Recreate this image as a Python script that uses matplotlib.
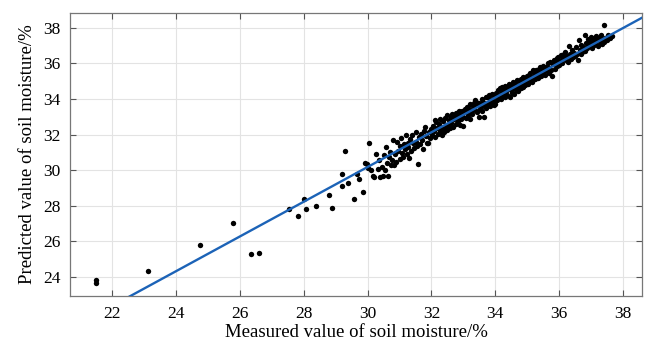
import matplotlib
matplotlib.use("Agg")
import matplotlib.pyplot as plt
import numpy as np

plt.rcParams['font.family'] = ['Liberation Serif', 'DejaVu Serif']

# measured vs predicted soil moisture (%)
outlier_x = [21.48, 21.48, 23.10, 24.76, 25.77, 26.34, 26.60, 27.54, 27.83, 28.02,
             28.06, 28.37, 28.80, 28.88, 29.19, 29.19, 29.30, 29.37, 29.56, 29.66,
             29.73, 29.84, 29.92, 29.97, 30.00, 30.05, 30.10, 30.16, 30.20, 30.25]
outlier_y = [23.83, 23.68, 24.32, 25.82, 27.05, 25.27, 25.35, 27.83, 27.45, 28.40,
             27.83, 28.00, 28.60, 27.85, 29.80, 29.13, 31.10, 29.30, 28.40, 29.80,
             29.50, 28.77, 30.40, 30.37, 30.10, 31.50, 30.00, 29.70, 29.60, 30.90]

band_x = [30.32, 30.36, 30.40, 30.45, 30.48, 30.52, 30.55, 30.58, 30.60, 30.64, 30.68, 30.70,
          30.72, 30.75, 30.80, 30.82, 30.85, 30.90, 30.93, 30.96, 31.00, 31.02,
          31.05, 31.08, 31.10, 31.13, 31.16, 31.20, 31.22, 31.25, 31.28, 31.30, 31.33, 31.36,
          31.40, 31.43, 31.46, 31.50, 31.52, 31.55, 31.58, 31.60, 31.63, 31.66, 31.70, 31.73,
          31.76, 31.80, 31.83, 31.86, 31.90, 31.92, 31.95, 31.98,
          32.02, 32.05, 32.08, 32.10, 32.12, 32.15, 32.18, 32.20, 32.23, 32.26, 32.28, 32.30,
          32.33, 32.36, 32.38, 32.40, 32.42, 32.45, 32.48, 32.50, 32.52, 32.55, 32.58, 32.60,
          32.62, 32.65, 32.68, 32.70, 32.73, 32.76, 32.78, 32.80, 32.83, 32.86, 32.88, 32.90,
          32.93, 32.96, 32.98,
          33.00, 33.02, 33.05, 33.08, 33.10, 33.12, 33.15, 33.18, 33.20, 33.22, 33.25, 33.28,
          33.30, 33.32, 33.35, 33.37, 33.40, 33.42, 33.45, 33.48, 33.50, 33.52, 33.55, 33.58,
          33.60, 33.62, 33.65, 33.68, 33.70, 33.72, 33.75, 33.78, 33.80, 33.82, 33.85, 33.88,
          33.90, 33.92, 33.95, 33.97, 34.00,
          34.02, 34.05, 34.07, 34.10, 34.12, 34.15, 34.17, 34.20, 34.22, 34.25, 34.28, 34.30,
          34.32, 34.35, 34.38, 34.40, 34.42, 34.45, 34.48, 34.50, 34.52, 34.55, 34.58, 34.60,
          34.62, 34.65, 34.68, 34.70, 34.72, 34.75, 34.78, 34.80, 34.82, 34.84, 34.86, 34.88,
          34.90, 34.93, 34.96, 34.98,
          35.00, 35.03, 35.05, 35.08, 35.10, 35.12, 35.15, 35.17, 35.20, 35.22, 35.25, 35.28,
          35.30, 35.33, 35.36, 35.38, 35.40, 35.42, 35.45, 35.48, 35.50, 35.53, 35.56, 35.60,
          35.62, 35.65, 35.68, 35.70, 35.72, 35.75, 35.78, 35.80, 35.83, 35.86, 35.90, 35.92,
          35.95, 35.98,
          36.00, 36.03, 36.06, 36.10, 36.13, 36.16, 36.20, 36.22, 36.25, 36.28, 36.30, 36.33,
          36.36, 36.40, 36.42, 36.45, 36.48, 36.50, 36.53, 36.56, 36.60, 36.62, 36.65, 36.68,
          36.70, 36.73, 36.76, 36.80, 36.82, 36.85, 36.88, 36.90, 36.93, 36.96,
          37.00, 37.02, 37.05, 37.08, 37.10, 37.13, 37.16, 37.20, 37.22, 37.25, 37.28, 37.30,
          37.33, 37.36, 37.40, 37.42, 37.45, 37.50, 37.55, 37.60, 37.65]
band_y = [30.05, 30.56, 29.62, 30.20, 29.70, 30.85, 30.00, 31.30, 30.40, 29.65, 30.75, 31.00,
          30.30, 30.55, 31.70, 30.28, 30.90, 30.45, 31.60, 31.10, 30.60, 31.35,
          31.80, 30.95, 30.75, 31.45, 31.20, 32.00, 30.90, 31.55, 31.30, 30.70, 31.75, 31.10,
          31.95, 31.50, 31.25, 32.14, 31.60, 31.35, 30.37, 31.85, 31.45, 32.05, 31.70, 31.20,
          32.20, 32.40, 31.90, 31.55, 31.50, 32.14, 31.80, 32.30,
          32.00, 32.50, 32.20, 32.80, 31.85, 32.70, 32.35, 32.05, 32.60, 32.90, 32.20, 32.45,
          31.95, 32.75, 32.30, 32.14, 32.95, 32.55, 32.25, 33.10, 32.50, 32.80, 32.35, 32.97,
          32.65, 33.15, 32.45, 32.85, 33.05, 32.60, 33.20, 33.00, 32.75, 33.30, 32.55, 33.10,
          32.85, 33.35, 33.00,
          32.50, 33.25, 33.45, 32.95, 33.30, 33.55, 33.10, 33.44, 32.90, 33.70, 33.35, 33.15,
          33.60, 33.80, 33.93, 33.40, 33.85, 33.25, 33.65, 33.00, 33.75, 33.45, 33.56, 34.00,
          33.30, 33.85, 33.00, 33.65, 34.10, 33.50, 34.10, 33.80, 34.20, 33.60, 34.00, 33.75,
          34.30, 33.90, 34.15, 33.65, 33.70,
          34.35, 34.30, 33.95, 34.50, 34.15, 34.60, 34.00, 34.40, 34.70, 34.25, 34.55, 34.10,
          34.75, 34.45, 34.20, 34.65, 34.85, 34.13, 34.50, 34.80, 34.35, 34.95, 34.60, 34.30,
          34.85, 34.50, 35.05, 34.70, 34.45, 35.00, 34.75, 35.15, 34.60, 34.90, 35.25, 34.70,
          35.05, 34.80, 34.87, 35.30,
          35.10, 34.85, 35.35, 35.00, 35.45, 35.20, 34.95, 35.62, 35.30, 35.50, 35.10, 35.65,
          35.40, 35.20, 35.70, 35.50, 35.80, 35.30, 35.60, 35.40, 35.85, 35.55, 35.35, 35.80,
          35.60, 36.00, 35.45, 35.75, 36.05, 35.60, 35.30, 35.95, 36.20, 35.70, 36.10, 35.85,
          36.30, 36.37,
          35.90, 36.15, 36.45, 36.00, 36.30, 36.55, 36.65, 36.20, 36.40, 36.10, 37.00, 36.50,
          36.25, 36.50, 36.75, 36.35, 36.60, 36.40, 36.90, 36.55, 36.20, 37.30, 36.75, 36.50,
          37.05, 36.65, 36.90, 37.60, 36.70, 37.15, 36.85, 37.35, 36.95, 37.20,
          37.50, 36.85, 37.25, 37.05, 37.40, 37.15, 37.55, 37.30, 37.00, 37.45, 37.20, 37.60,
          37.35, 37.10, 37.20, 38.15, 37.45, 37.30, 37.60, 37.40, 37.55]

# fitted line
fit_slope = 0.975
fit_intercept = 0.93

x_ticks = [22, 24, 26, 28, 30, 32, 34, 36, 38]
y_ticks = [24, 26, 28, 30, 32, 34, 36, 38]

fig = plt.figure(figsize=(6.46, 3.47), dpi=100)
ax = fig.add_axes([0.1084, 0.147, 0.8854, 0.8155])

ax.scatter(outlier_x + band_x, outlier_y + band_y, s=15, c='black', linewidths=0, zorder=3)

xlim = (20.67, 38.6)
xs = np.array(xlim)
ax.plot(xs, fit_slope * xs + fit_intercept, color='#1c63b7', linewidth=1.7, zorder=4)

ax.set_xlim(*xlim)
ax.set_ylim(22.93, 38.83)
ax.set_xticks(x_ticks)
ax.set_yticks(y_ticks)
ax.grid(True, color='#e3e3e3', linewidth=0.8)
ax.set_axisbelow(True)

ax.tick_params(direction='in', top=True, right=True, length=4, width=0.8,
               color='#555555', labelsize=12.5, pad=7)
for sp in ax.spines.values():
    sp.set_color('#777777')
    sp.set_linewidth(0.9)

ax.set_xlabel('Measured value of soil moisture/%', fontsize=13.5, labelpad=2)
ax.set_ylabel('Predicted value of soil moisture/%', fontsize=13.5, labelpad=5)

fig.savefig('out.png', dpi=100)
